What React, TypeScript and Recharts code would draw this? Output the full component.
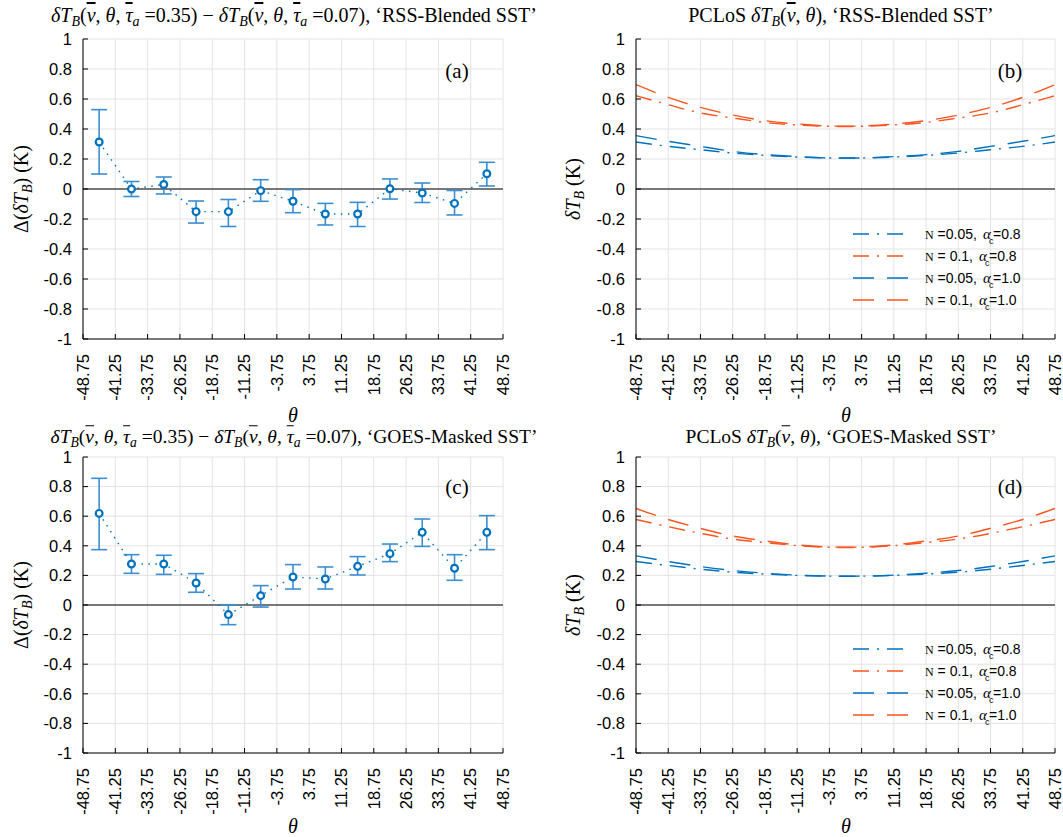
import React from "react";
import {
  ComposedChart,
  Line,
  XAxis,
  YAxis,
  CartesianGrid,
  ReferenceLine,
  ErrorBar,
  Legend,
} from "recharts";

// ── axis ticks ──
const thetaTicks = [
  -48.75, -41.25, -33.75, -26.25, -18.75, -11.25, -3.75, 3.75, 11.25, 18.75,
  26.25, 33.75, 41.25, 48.75,
];
const yTicks = [-1, -0.8, -0.6, -0.4, -0.2, 0, 0.2, 0.4, 0.6, 0.8, 1];

// ── difference panels (a) and (c) ──
const thetaPoints = [-45, -37.5, -30, -22.5, -15, -7.5, 0, 7.5, 15, 22.5, 30, 37.5, 45];

const rssDiff = [0.313, 0.0, 0.03, -0.151, -0.151, -0.011, -0.082, -0.167, -0.167, 0.002, -0.027, -0.096, 0.102];
const rssLow = [0.1, -0.05, -0.033, -0.227, -0.25, -0.082, -0.158, -0.24, -0.25, -0.067, -0.09, -0.173, 0.02];
const rssHigh = [0.529, 0.05, 0.08, -0.08, -0.07, 0.062, -0.004, -0.096, -0.089, 0.067, 0.04, -0.01, 0.178];

const goesDiff = [0.619, 0.277, 0.277, 0.149, -0.065, 0.063, 0.189, 0.176, 0.261, 0.347, 0.491, 0.248, 0.491];
const goesLow = [0.374, 0.214, 0.207, 0.086, -0.133, -0.014, 0.108, 0.108, 0.203, 0.293, 0.396, 0.167, 0.374];
const goesHigh = [0.856, 0.34, 0.336, 0.212, 0.002, 0.131, 0.273, 0.257, 0.327, 0.412, 0.581, 0.34, 0.604];

// ── PCLoS curves, panels (b) and (d), sampled at the theta ticks ──
const rssN005a08 = [0.313, 0.284, 0.262, 0.24, 0.224, 0.213, 0.207, 0.207, 0.213, 0.224, 0.24, 0.262, 0.284, 0.313];
const rssN01a08 = [0.622, 0.562, 0.507, 0.473, 0.444, 0.427, 0.418, 0.418, 0.427, 0.444, 0.473, 0.507, 0.562, 0.622];
const rssN005a10 = [0.356, 0.318, 0.284, 0.251, 0.229, 0.216, 0.207, 0.207, 0.216, 0.229, 0.251, 0.284, 0.318, 0.356];
const rssN01a10 = [0.696, 0.611, 0.544, 0.493, 0.456, 0.433, 0.42, 0.42, 0.433, 0.456, 0.493, 0.544, 0.611, 0.696];

const goesN005a08 = [0.294, 0.267, 0.242, 0.222, 0.209, 0.2, 0.195, 0.195, 0.2, 0.209, 0.222, 0.242, 0.267, 0.294];
const goesN01a08 = [0.578, 0.529, 0.484, 0.446, 0.422, 0.401, 0.39, 0.39, 0.401, 0.422, 0.446, 0.484, 0.529, 0.578];
const goesN005a10 = [0.332, 0.294, 0.26, 0.233, 0.215, 0.202, 0.195, 0.195, 0.202, 0.215, 0.233, 0.26, 0.294, 0.332];
const goesN01a10 = [0.652, 0.578, 0.518, 0.466, 0.433, 0.406, 0.392, 0.392, 0.406, 0.433, 0.466, 0.518, 0.578, 0.652];

const BLUE = "#0072BD";
const BAR_BLUE = "#3A8ED3";
const ORANGE = "#F9541D";
const GRID = "#e3e3e3";
const SANS = "'Liberation Sans', Arial, sans-serif";
const SERIF = "'Liberation Serif', 'Times New Roman', serif";
const TICK_SIZE = 16.5;

const DASH_DOT = "16 8 2 8";
const LONG_DASH = "21 13";

const series = [
  { key: "n005a08", color: BLUE, dash: DASH_DOT, n: " =0.05,", a: "=0.8" },
  { key: "n01a08", color: ORANGE, dash: DASH_DOT, n: " = 0.1,", a: "=0.8" },
  { key: "n005a10", color: BLUE, dash: LONG_DASH, n: " =0.05,", a: "=1.0" },
  { key: "n01a10", color: ORANGE, dash: LONG_DASH, n: " = 0.1,", a: "=1.0" },
];

const diffRows = (v: number[], lo: number[], hi: number[]) =>
  thetaPoints.map((t, i) => ({ theta: t, v: v[i], err: [v[i] - lo[i], hi[i] - v[i]] }));

const curveRows = (a: number[], b: number[], c: number[], d: number[]) =>
  thetaTicks.map((t, i) => ({ theta: t, n005a08: a[i], n01a08: b[i], n005a10: c[i], n01a10: d[i] }));

const rssTable = diffRows(rssDiff, rssLow, rssHigh);
const goesTable = diffRows(goesDiff, goesLow, goesHigh);
const rssCurves = curveRows(rssN005a08, rssN01a08, rssN005a10, rssN01a10);
const goesCurves = curveRows(goesN005a08, goesN01a08, goesN005a10, goesN01a10);

const ThetaTick = (props: any) => {
  const { x, y, payload } = props;
  return (
    <text
      x={x}
      y={y}
      transform={`rotate(-90 ${x} ${y})`}
      textAnchor="end"
      dy="0.35em"
      fontSize={TICK_SIZE}
      fontFamily={SANS}
      fill="#000"
    >
      {payload.value}
    </text>
  );
};

const Marker = (props: any) => {
  const { cx, cy } = props;
  if (cx == null || cy == null) return null;
  return <circle cx={cx} cy={cy} r={3.4} fill="#fff" stroke={BLUE} strokeWidth={2.2} />;
};

// frame: bottom/left labelled axes plus top/right tick-only axes, ticks pointing inward
function frameAxes() {
  return [
    <XAxis
      key="xb"
      dataKey="theta"
      type="number"
      domain={[-48.75, 48.75]}
      ticks={thetaTicks}
      interval={0}
      allowDataOverflow
      height={81}
      tickSize={-5}
      tickMargin={20}
      axisLine={{ stroke: "#000" }}
      tickLine={{ stroke: "#000" }}
      tick={<ThetaTick />}
    />,
    <XAxis
      key="xt"
      xAxisId="top"
      orientation="top"
      type="number"
      domain={[-48.75, 48.75]}
      ticks={thetaTicks}
      interval={0}
      allowDataOverflow
      height={0}
      tickSize={-5}
      axisLine={{ stroke: "#000" }}
      tickLine={{ stroke: "#000" }}
      tick={false}
    />,
    <YAxis
      key="yl"
      type="number"
      domain={[-1, 1]}
      ticks={yTicks}
      interval={0}
      allowDataOverflow
      width={83}
      tickSize={-5}
      tickMargin={16}
      axisLine={{ stroke: "#000" }}
      tickLine={{ stroke: "#000" }}
      tick={{ fontSize: TICK_SIZE, fontFamily: SANS, fill: "#000" }}
    />,
    <YAxis
      key="yr"
      yAxisId="right"
      orientation="right"
      type="number"
      domain={[-1, 1]}
      ticks={yTicks}
      interval={0}
      allowDataOverflow
      width={0}
      tickSize={-5}
      axisLine={{ stroke: "#000" }}
      tickLine={{ stroke: "#000" }}
      tick={false}
    />,
  ];
}

function DiffPanel({ data, width, height, right }: { data: any[]; width: number; height: number; right: number }) {
  return (
    <ComposedChart width={width} height={height} data={data} margin={{ top: 39, right, bottom: 0, left: 0 }}>
      <CartesianGrid stroke={GRID} strokeWidth={1} />
      {frameAxes()}
      <ReferenceLine y={0} stroke="#000" strokeWidth={1.2} />
      <Line
        dataKey="v"
        type="linear"
        stroke={BLUE}
        strokeWidth={1.4}
        strokeDasharray="1.5 5.5"
        dot={<Marker />}
        activeDot={false}
        isAnimationActive={false}
      >
        <ErrorBar dataKey="err" direction="y" width={8} stroke={BAR_BLUE} strokeWidth={1.6} />
      </Line>
    </ComposedChart>
  );
}

const Nsym = () => (
  <tspan fontFamily={SERIF} fontSize={12}>
    N
  </tspan>
);

const renderLegend = () => (
  <svg width={215} height={90} style={{ display: "block" }}>
    {series.map((s, i) => (
      <g key={s.key} transform={`translate(0, ${11 + 22 * i})`}>
        <line x1={0} x2={57} y1={0} y2={0} stroke={s.color} strokeWidth={1.6} strokeDasharray={s.dash} />
        <text x={72} y={0} dy="0.35em" fontSize={14} fontFamily={SANS} fill="#000">
          <Nsym />
          {s.n}
        </text>
        <text x={i % 2 === 0 ? 130 : 126} y={0} dy="0.3em" fontSize={15} fontFamily={SERIF} fontStyle="italic" fill="#000">
          α
        </text>
        <text x={i % 2 === 0 ? 136 : 132} y={7} dy="0.35em" fontSize={9} fontFamily={SANS} fill="#000">
          c
        </text>
        <text x={i % 2 === 0 ? 140 : 136} y={0} dy="0.35em" fontSize={14} fontFamily={SANS} fill="#000">
          {s.a}
        </text>
      </g>
    ))}
  </svg>
);

function CurvePanel({ data, width, height, legendTop }: { data: any[]; width: number; height: number; legendTop: number }) {
  return (
    <ComposedChart width={width} height={height} data={data} margin={{ top: 39, right: 8, bottom: 0, left: 0 }}>
      <CartesianGrid stroke={GRID} strokeWidth={1} />
      {frameAxes()}
      <ReferenceLine y={0} stroke="#000" strokeWidth={1.2} />
      {series.map((s) => (
        <Line
          key={s.key}
          dataKey={s.key}
          type="natural"
          stroke={s.color}
          strokeWidth={1.4}
          strokeDasharray={s.dash}
          dot={false}
          activeDot={false}
          isAnimationActive={false}
        />
      ))}
      <Legend
        layout="vertical"
        align="center"
        verticalAlign="middle"
        content={renderLegend}
        wrapperStyle={{ left: 300, top: legendTop, width: 215 }}
      />
    </ComposedChart>
  );
}

// ── text helpers ──
const I = ({ children }: { children: React.ReactNode }) => <i>{children}</i>;
const Bar = ({ children }: { children: React.ReactNode }) => (
  <i style={{ textDecoration: "overline" }}>{children}</i>
);
const Sub = ({ children }: { children: React.ReactNode }) => (
  <sub style={{ fontSize: "0.7em", verticalAlign: "-0.3em", lineHeight: 0 }}>
    <i>{children}</i>
  </sub>
);
const DTB = () => (
  <>
    <I>δT</I>
    <Sub>B</Sub>
  </>
);

const DiffTitle = ({ name }: { name: string }) => (
  <>
    <DTB />(<Bar>ν</Bar>, <I>θ</I>, <Bar>τ</Bar>
    <Sub>a</Sub> =0.35) − <DTB />(<Bar>ν</Bar>, <I>θ</I>, <Bar>τ</Bar>
    <Sub>a</Sub> =0.07), ‘{name}’
  </>
);
const CurveTitle = ({ name }: { name: string }) => (
  <>
    PCLoS <DTB />(<Bar>ν</Bar>, <I>θ</I>), ‘{name}’
  </>
);

const centered = (cx: number, cy: number, size: number, rotate = false): React.CSSProperties => ({
  position: "absolute",
  left: cx,
  top: cy,
  transform: `translate(-50%, -50%)${rotate ? " rotate(-90deg)" : ""}`,
  whiteSpace: "nowrap",
  fontFamily: SERIF,
  fontSize: size,
  lineHeight: 1,
  color: "#000",
});

export default function App() {
  return (
    <div style={{ position: "absolute", left: 0, top: 0, width: 1063, height: 837, background: "#fff", overflow: "hidden" }}>
      <div style={{ position: "absolute", left: 0, top: 0 }}>
        <DiffPanel data={rssTable} width={530} height={420} right={27} />
      </div>
      <div style={{ position: "absolute", left: 553, top: 0 }}>
        <CurvePanel data={rssCurves} width={510} height={420} legendTop={223} />
      </div>
      <div style={{ position: "absolute", left: 0, top: 418 }}>
        <DiffPanel data={goesTable} width={530} height={416} right={27} />
      </div>
      <div style={{ position: "absolute", left: 553, top: 418 }}>
        <CurvePanel data={goesCurves} width={510} height={416} legendTop={220} />
      </div>

      {/* titles */}
      <div style={centered(294, 15, 20)}>
        <DiffTitle name="RSS-Blended SST" />
      </div>
      <div style={centered(841, 15, 20)}>
        <CurveTitle name="RSS-Blended SST" />
      </div>
      <div style={centered(294, 437, 19.5)}>
        <DiffTitle name="GOES-Masked SST" />
      </div>
      <div style={centered(841, 437, 19.5)}>
        <CurveTitle name="GOES-Masked SST" />
      </div>

      {/* axis labels */}
      <div style={centered(21, 189, 20, true)}>
        Δ(<DTB />) (K)
      </div>
      <div style={centered(21, 605, 20, true)}>
        Δ(<DTB />) (K)
      </div>
      <div style={centered(573, 189, 20, true)}>
        <DTB /> (K)
      </div>
      <div style={centered(573, 605, 20, true)}>
        <DTB /> (K)
      </div>
      <div style={centered(293, 415, 20)}>
        <I>θ</I>
      </div>
      <div style={centered(846, 415, 20)}>
        <I>θ</I>
      </div>
      <div style={centered(293, 826, 20)}>
        <I>θ</I>
      </div>
      <div style={centered(846, 826, 20)}>
        <I>θ</I>
      </div>

      {/* panel tags */}
      <div style={centered(457, 71, 21)}>(a)</div>
      <div style={centered(1010, 71, 21)}>(b)</div>
      <div style={centered(457, 487, 21)}>(c)</div>
      <div style={centered(1010, 487, 21)}>(d)</div>
    </div>
  );
}
